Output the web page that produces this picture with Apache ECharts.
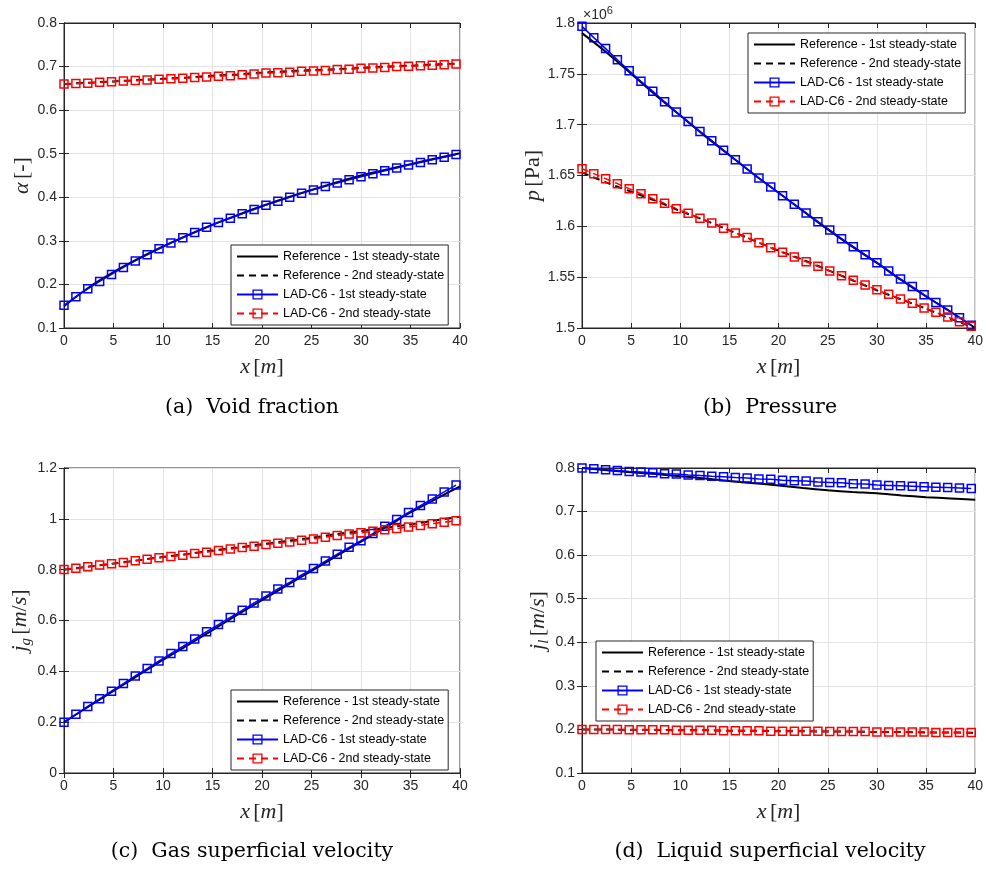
<!DOCTYPE html>
<html>
<head>
<meta charset="utf-8">
<script src="https://cdn.jsdelivr.net/npm/echarts@6/dist/echarts.min.js"></script>
<style>
  html, body { margin: 0; padding: 0; background: #fff; }
  #main { width: 986px; height: 872px; }
</style>
</head>
<body>
<div id="main"></div>
<script>
// positions along the pipe
var xLad = [0, 1.2, 2.4, 3.6, 4.8, 6, 7.2, 8.4, 9.6, 10.8, 12, 13.2, 14.4, 15.6, 16.8, 18, 19.2,
  20.4, 21.6, 22.8, 24, 25.2, 26.4, 27.6, 28.8, 30, 31.2, 32.4, 33.6, 34.8, 36, 37.2, 38.4, 39.6];
var xRef = [0, 2.5, 5, 7.5, 10, 12.5, 15, 17.5, 20, 22.5, 25, 27.5, 30, 32.5, 35, 37.5, 40];

// (a) void fraction
var alphaRef1 = [0.150, 0.193, 0.228, 0.259, 0.287, 0.313, 0.337, 0.359, 0.380, 0.399, 0.417, 0.434, 0.450, 0.463, 0.476, 0.489, 0.501];
var alphaRef2 = [0.660, 0.663, 0.666, 0.669, 0.672, 0.675, 0.679, 0.682, 0.686, 0.689, 0.692, 0.694, 0.697, 0.700, 0.702, 0.705, 0.707];
var alphaLad1 = [0.152, 0.172, 0.190, 0.207, 0.223, 0.239, 0.254, 0.268, 0.282, 0.295, 0.307, 0.319, 0.331, 0.342, 0.352, 0.362, 0.372,
  0.382, 0.391, 0.400, 0.409, 0.417, 0.425, 0.433, 0.440, 0.447, 0.454, 0.461, 0.467, 0.474, 0.480, 0.486, 0.492, 0.498];
var alphaLad2 = [0.660, 0.661, 0.662, 0.664, 0.665, 0.667, 0.668, 0.669, 0.671, 0.672, 0.673, 0.675, 0.676, 0.678, 0.679, 0.681, 0.683,
  0.685, 0.686, 0.687, 0.689, 0.690, 0.691, 0.693, 0.694, 0.696, 0.697, 0.698, 0.700, 0.701, 0.702, 0.703, 0.704, 0.706];

// (b) pressure, x1e6 Pa
var pRef1 = [1.790, 1.771, 1.750, 1.729, 1.709, 1.689, 1.670, 1.651, 1.633, 1.615, 1.597, 1.580, 1.564, 1.547, 1.531, 1.516, 1.500];
var pRef2 = [1.653, 1.643, 1.634, 1.625, 1.615, 1.606, 1.596, 1.586, 1.576, 1.567, 1.557, 1.547, 1.537, 1.528, 1.519, 1.509, 1.500];
var pLad1 = [1.7967, 1.7856, 1.7748, 1.7639, 1.7531, 1.7426, 1.7328, 1.7226, 1.7125, 1.7030, 1.6934, 1.6843, 1.6748, 1.6656, 1.6564, 1.6475, 1.6387,
  1.6302, 1.6216, 1.6131, 1.6046, 1.5964, 1.5879, 1.5800, 1.5721, 1.5643, 1.5561, 1.5482, 1.5407, 1.5328, 1.5252, 1.5177, 1.5102, 1.5026];
var pLad2 = [1.6567, 1.6518, 1.6469, 1.6420, 1.6370, 1.6321, 1.6272, 1.6226, 1.6174, 1.6128, 1.6079, 1.6033, 1.5980, 1.5934, 1.5889, 1.5839, 1.5790,
  1.5744, 1.5698, 1.5652, 1.5607, 1.5561, 1.5515, 1.5469, 1.5423, 1.5377, 1.5331, 1.5285, 1.5243, 1.5197, 1.5154, 1.5108, 1.5062, 1.5016];

// (c) gas superficial velocity
var jgRef1 = [0.200, 0.262, 0.323, 0.384, 0.445, 0.503, 0.562, 0.622, 0.680, 0.738, 0.795, 0.853, 0.910, 0.967, 1.025, 1.077, 1.128];
var jgRef2 = [0.800, 0.812, 0.824, 0.837, 0.850, 0.862, 0.875, 0.887, 0.900, 0.913, 0.925, 0.940, 0.952, 0.965, 0.978, 0.994, 1.008];
var jgLad1 = [0.200, 0.231, 0.262, 0.292, 0.322, 0.352, 0.382, 0.411, 0.441, 0.470, 0.498, 0.527, 0.556, 0.584, 0.612, 0.640, 0.669,
  0.696, 0.724, 0.750, 0.779, 0.805, 0.834, 0.861, 0.888, 0.914, 0.942, 0.971, 0.997, 1.025, 1.052, 1.078, 1.106, 1.133];
var jgLad2 = [0.801, 0.806, 0.811, 0.818, 0.823, 0.828, 0.835, 0.841, 0.847, 0.852, 0.857, 0.864, 0.869, 0.875, 0.881, 0.887, 0.892,
  0.899, 0.904, 0.909, 0.916, 0.921, 0.928, 0.934, 0.940, 0.945, 0.951, 0.957, 0.962, 0.968, 0.974, 0.981, 0.987, 0.992];

// (d) liquid superficial velocity
var jlRef1 = [0.800, 0.795, 0.790, 0.786, 0.781, 0.776, 0.770, 0.765, 0.760, 0.754, 0.749, 0.745, 0.742, 0.737, 0.733, 0.730, 0.727];
var jlRef2 = [0.200, 0.200, 0.199, 0.199, 0.198, 0.198, 0.197, 0.197, 0.196, 0.196, 0.195, 0.195, 0.194, 0.194, 0.193, 0.193, 0.192];
var jlLad1 = [0.800, 0.798, 0.796, 0.794, 0.792, 0.791, 0.789, 0.787, 0.786, 0.784, 0.783, 0.781, 0.780, 0.778, 0.777, 0.775, 0.774,
  0.772, 0.771, 0.770, 0.768, 0.767, 0.766, 0.764, 0.763, 0.761, 0.760, 0.759, 0.758, 0.757, 0.756, 0.755, 0.754, 0.753];
var jlLad2 = [0.200, 0.200, 0.200, 0.200, 0.199, 0.199, 0.199, 0.199, 0.198, 0.198, 0.198, 0.198, 0.197, 0.197, 0.197, 0.197, 0.196,
  0.196, 0.196, 0.196, 0.196, 0.195, 0.195, 0.195, 0.195, 0.194, 0.194, 0.194, 0.194, 0.194, 0.193, 0.193, 0.193, 0.193];

var names = ['Reference - 1st steady-state', 'Reference - 2nd steady-state',
  'LAD-C6 - 1st steady-state', 'LAD-C6 - 2nd steady-state'];

var axisCol = '#262626';
var sans = '"Liberation Sans", Arial, sans-serif';
var serif = '"Liberation Serif", "DejaVu Serif", serif';

var panels = [
  { grid: { left: 64, top: 23, width: 396, height: 305 }, ymin: 0.1, ymax: 0.8, step: 0.1,
    yname: '{i|α} {r|[-]}', ygap: 27, data: [alphaRef1, alphaRef2, alphaLad1, alphaLad2],
    legend: { left: 231, top: 245 } },
  { grid: { left: 582, top: 23, width: 395, height: 305 }, ymin: 1.5, ymax: 1.8, step: 0.05,
    yname: '{i|p} {r|[Pa]}', ygap: 38, data: [pRef1, pRef2, pLad1, pLad2],
    legend: { left: 748, top: 33 } },
  { grid: { left: 64, top: 468, width: 396, height: 305 }, ymin: 0, ymax: 1.2, step: 0.2,
    yname: '{i|j}{sub|g} {r|[}{i|m}{r|/}{i|s}{r|]}', ygap: 28, data: [jgRef1, jgRef2, jgLad1, jgLad2],
    legend: { left: 231, top: 690 } },
  { grid: { left: 582, top: 468, width: 395, height: 305 }, ymin: 0.1, ymax: 0.8, step: 0.1,
    yname: '{i|j}{sub|l} {r|[}{i|m}{r|/}{i|s}{r|]}', ygap: 30, data: [jlRef1, jlRef2, jlLad1, jlLad2],
    legend: { left: 596, top: 641 } }
];

var nameRich = {
  i: { fontFamily: serif, fontStyle: 'italic', fontSize: 22, color: axisCol },
  r: { fontFamily: serif, fontSize: 22, color: axisCol },
  sub: { fontFamily: serif, fontStyle: 'italic', fontSize: 15, color: axisCol, padding: [12, 0, 0, 0] }
};

function pts(xs, ys) {
  return xs.map(function (x, k) { return [x, ys[k]]; });
}

var grids = [], xAxes = [], yAxes = [], series = [], legends = [];

panels.forEach(function (p, gi) {
  grids.push(Object.assign({ show: true, borderColor: axisCol, borderWidth: 1, backgroundColor: '#fff' }, p.grid));
  // bottom x axis with labels
  xAxes.push({
    type: 'value', gridIndex: gi, min: 0, max: 40, interval: 5, position: 'bottom',
    name: '{i|x} {r|[}{i|m}{r|]}', nameLocation: 'middle', nameGap: 28,
    nameTextStyle: { rich: nameRich },
    axisLine: { show: true, lineStyle: { color: axisCol, width: 1 } },
    axisTick: { show: true, inside: true, length: 5, lineStyle: { color: axisCol } },
    axisLabel: { color: axisCol, fontFamily: sans, fontSize: 14, margin: 6 },
    splitLine: { show: true, lineStyle: { color: '#e3e3e3', width: 1 } }
  });
  // top x axis: ticks only
  xAxes.push({
    type: 'value', gridIndex: gi, min: 0, max: 40, interval: 5, position: 'top',
    axisLine: { show: true, lineStyle: { color: axisCol, width: 1 } },
    axisTick: { show: true, inside: true, length: 5, lineStyle: { color: axisCol } },
    axisLabel: { show: false }, splitLine: { show: false }
  });
  yAxes.push({
    type: 'value', gridIndex: gi, min: p.ymin, max: p.ymax, interval: p.step, position: 'left',
    name: p.yname, nameLocation: 'middle', nameGap: p.ygap, nameRotate: 90,
    nameTextStyle: { rich: nameRich },
    axisLine: { show: true, lineStyle: { color: axisCol, width: 1 } },
    axisTick: { show: true, inside: true, length: 5, lineStyle: { color: axisCol } },
    axisLabel: { color: axisCol, fontFamily: sans, fontSize: 14, margin: 7 },
    splitLine: { show: true, lineStyle: { color: '#e3e3e3', width: 1 } }
  });
  yAxes.push({
    type: 'value', gridIndex: gi, min: p.ymin, max: p.ymax, interval: p.step, position: 'right',
    axisLine: { show: true, lineStyle: { color: axisCol, width: 1 } },
    axisTick: { show: true, inside: true, length: 5, lineStyle: { color: axisCol } },
    axisLabel: { show: false }, splitLine: { show: false }
  });

  var xi = gi * 2, yi = gi * 2;
  series.push({
    name: names[0], type: 'line', xAxisIndex: xi, yAxisIndex: yi, data: pts(xRef, p.data[0]),
    smooth: 0.3, symbol: 'none', lineStyle: { color: '#000', width: 2, type: 'solid' },
    itemStyle: { color: '#000' }, z: 2
  });
  series.push({
    name: names[1], type: 'line', xAxisIndex: xi, yAxisIndex: yi, data: pts(xRef, p.data[1]),
    smooth: 0.3, symbol: 'none', lineStyle: { color: '#000', width: 2, type: [7, 5] },
    itemStyle: { color: '#000' }, z: 3
  });
  series.push({
    name: names[2], type: 'line', xAxisIndex: xi, yAxisIndex: yi, data: pts(xLad, p.data[2]),
    symbol: 'rect', symbolSize: 8, showAllSymbol: true,
    lineStyle: { color: '#0000ff', width: 1.5, type: 'solid' },
    itemStyle: { color: 'rgba(0,0,0,0)', borderColor: '#0000ff', borderWidth: 1.5, borderType: 'solid' }, z: 4
  });
  series.push({
    name: names[3], type: 'line', xAxisIndex: xi, yAxisIndex: yi, data: pts(xLad, p.data[3]),
    symbol: 'rect', symbolSize: 8, showAllSymbol: true,
    lineStyle: { color: '#ff0000', width: 1.5, type: [7, 5] },
    itemStyle: { color: 'rgba(0,0,0,0)', borderColor: '#ff0000', borderWidth: 1.5, borderType: 'solid' }, z: 5
  });

  var noMark = { color: 'rgba(0,0,0,0)', borderColor: 'rgba(0,0,0,0)', borderWidth: 0, opacity: 0 };
  legends.push({
    data: [
      { name: names[0], itemStyle: noMark },
      { name: names[1], itemStyle: noMark },
      { name: names[2], itemStyle: { color: 'rgba(0,0,0,0)', borderColor: '#0000ff', borderWidth: 1.3, borderType: 'solid' } },
      { name: names[3], itemStyle: { color: 'rgba(0,0,0,0)', borderColor: '#ff0000', borderWidth: 1.3, borderType: 'solid' } }
    ],
    left: p.legend.left, top: p.legend.top, orient: 'vertical',
    selectedMode: false, backgroundColor: '#fff', borderColor: axisCol, borderWidth: 1,
    padding: [5, 4, 5, 5], itemGap: 6, itemWidth: 41, itemHeight: 11,
    textStyle: { color: '#000', fontFamily: sans, fontSize: 12.5 }
  });
});

var captionStyle = { fontFamily: '"DejaVu Serif", serif', fontSize: 20.5, fill: '#000', textAlign: 'center', textVerticalAlign: 'middle' };

var option = {
  animation: false,
  backgroundColor: '#fff',
  grid: grids,
  xAxis: xAxes,
  yAxis: yAxes,
  legend: legends,
  series: series,
  graphic: [
    { type: 'text', x: 252, y: 408, style: Object.assign({ text: '(a)  Void fraction' }, captionStyle) },
    { type: 'text', x: 770, y: 408, style: Object.assign({ text: '(b)  Pressure' }, captionStyle) },
    { type: 'text', x: 252, y: 852, style: Object.assign({ text: '(c)  Gas superficial velocity' }, captionStyle) },
    { type: 'text', x: 770, y: 852, style: Object.assign({ text: '(d)  Liquid superficial velocity' }, captionStyle) },
    { type: 'text', x: 583, y: 5, style: {
        text: '×10{s|6}', fontFamily: sans, fontSize: 14, fill: axisCol,
        rich: { s: { fontFamily: sans, fontSize: 11, fill: axisCol, padding: [0, 0, 9, 0] } }
      } }
  ]
};

var chart = echarts.init(document.getElementById('main'), null, { renderer: 'canvas' });
chart.setOption(option);
</script>
</body>
</html>
